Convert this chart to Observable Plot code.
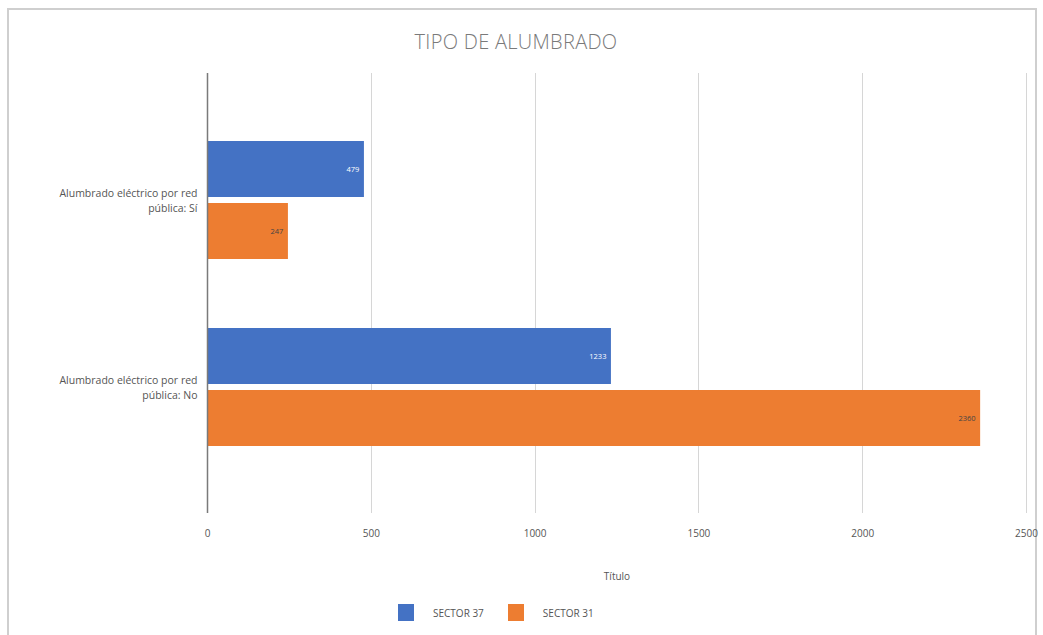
<!DOCTYPE html>
<html>
<head>
<meta charset="utf-8">
<script src="https://cdn.jsdelivr.net/npm/d3@7"></script>
<script src="https://cdn.jsdelivr.net/npm/@observablehq/plot@0.6"></script>
<style>
  body { margin: 0; background: #fff; font-family: "Open Sans", "Noto Sans", sans-serif; }
  #wrap { position: relative; width: 1043px; height: 635px; overflow: hidden; }
  #frame { position: absolute; left: 7px; top: 8px; width: 1030px; height: 700px; border: 2px solid #cfcfcf; box-sizing: border-box; }
  #title { position: absolute; left: 0; width: 1032px; top: 28px; text-align: center; font-size: 20px; font-weight: 300; color: #7a7a7a; letter-spacing: 0.3px; }
  #chart { position: absolute; left: 0; top: 0; }
  #legend { position: absolute; top: 604px; left: 398px; display: flex; align-items: center; font-size: 10px; color: #555; }
  .sw { width: 16px; height: 17px; display: inline-block; margin-right: 19px; }
  .item { display: flex; align-items: center; margin-right: 24px; }
</style>
</head>
<body>
<div id="wrap">
  <div id="frame"></div>
  <div id="title">TIPO DE ALUMBRADO</div>
  <div id="chart"></div>
  <div id="legend"></div>
</div>
<script>
const categories = ["Alumbrado eléctrico por red pública: Sí", "Alumbrado eléctrico por red pública: No"];
const series = ["SECTOR 37", "SECTOR 31"];
const sector37 = [479, 1233];
const sector31 = [247, 2360];
const xTicks = [0, 500, 1000, 1500, 2000, 2500];
const colors = ["#4472C4", "#ED7D31"];

const data = [];
categories.forEach((c, i) => {
  data.push({category: c, series: series[0], value: sector37[i]});
  data.push({category: c, series: series[1], value: sector31[i]});
});

const EXT = 67; // how far the grid extends above/below the bar area

// full-height vertical rules drawn once across all facets, positioned by Plot's x scale
function fullRules(ticks, stroke, strokeWidth) {
  return Plot.frame({
    facet: "super",
    stroke: "none",
    render: (index, scales, values, dims) => {
      const g = d3.create("svg:g");
      for (const t of ticks) {
        const x = Math.round(scales.x(t)) + 0.5;
        g.append("line")
          .attr("x1", x).attr("x2", x)
          .attr("y1", dims.marginTop - EXT).attr("y2", dims.height - dims.marginBottom + EXT)
          .attr("stroke", stroke).attr("stroke-width", strokeWidth);
      }
      return g.node();
    }
  });
}

const plot = Plot.plot({
  width: 1043,
  height: 590,
  marginTop: 140,
  marginBottom: 144,
  marginLeft: 207,
  marginRight: 17,
  style: {fontFamily: "'Open Sans', 'Noto Sans', sans-serif", background: "transparent"},
  x: {domain: [0, 2500]},
  y: {domain: series, paddingInner: 0.1, paddingOuter: 0, axis: null},
  fy: {domain: categories, paddingInner: 0.364, paddingOuter: 0},
  color: {domain: series, range: colors},
  marks: [
    fullRules(xTicks, "#d6d6d6", 1),
    Plot.barX(data, {x: "value", y: "series", fy: "category", fill: "series"}),
    Plot.text(data, {x: "value", y: "series", fy: "category", text: d => String(d.value), textAnchor: "end", dx: -5, fontSize: 7.5, fill: d => d.series === series[0] ? "#ffffff" : "#444"}),
    fullRules([0], "#7a7a7a", 1.5),
    Plot.axisX({ticks: xTicks, tickFormat: d3.format("d"), tickSize: 0, tickPadding: 83, fontSize: 10, color: "#555", label: "Título", labelAnchor: "center", labelArrow: "none", labelOffset: 133}),
    Plot.axisFy({anchor: "left", tickSize: 0, tickPadding: 10, fontSize: 10.5, color: "#555", label: null, lineHeight: 1.45,
      tickFormat: d => d.replace(" pública", "\npública")})
  ]
});
document.getElementById("chart").appendChild(plot);

const legend = document.getElementById("legend");
series.forEach((s, i) => {
  const item = document.createElement("div");
  item.className = "item";
  const sw = document.createElement("span");
  sw.className = "sw";
  sw.style.background = colors[i];
  const t = document.createElement("span");
  t.textContent = s;
  item.appendChild(sw);
  item.appendChild(t);
  legend.appendChild(item);
});
</script>
</body>
</html>
